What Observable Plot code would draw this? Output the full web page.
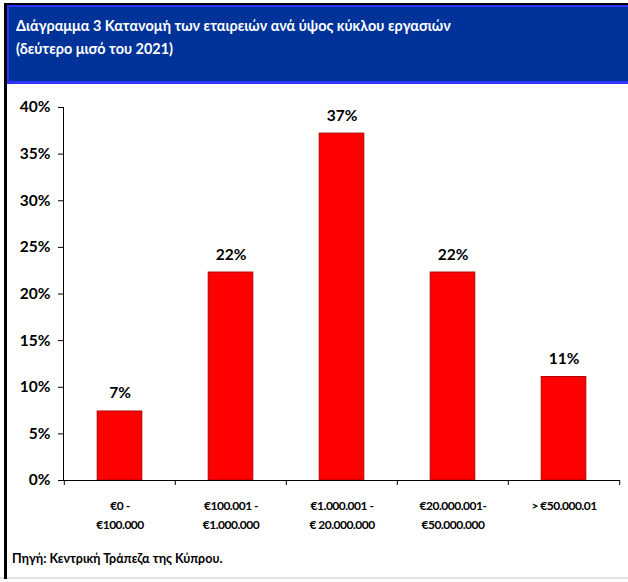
<!DOCTYPE html>
<html>
<head>
<meta charset="utf-8">
<script src="https://cdn.jsdelivr.net/npm/d3@7"></script>
<script src="https://cdn.jsdelivr.net/npm/@observablehq/plot@0.6"></script>
<style>
  html, body { margin: 0; padding: 0; background: #fff; }
  body { width: 628px; height: 582px; position: relative; overflow: hidden;
         font-family: Lato, "Noto Sans", sans-serif; }
  #topline { position: absolute; left: 4px; top: 3px; width: 624px; height: 2px; background: #000; }
  #leftline { position: absolute; left: 4px; top: 3px; width: 3px; height: 576px; background: #000; z-index: 3; }
  #bottomline { position: absolute; left: 0; top: 577px; width: 628px; height: 2px; background: #e2e2e2; }
  #header { position: absolute; left: 7px; top: 5px; width: 621px; height: 74px;
            background: #003399; border-top: 2px solid #3333ff; border-bottom: 3px solid #3333ff;
            border-left: 2px solid #3333ff; box-sizing: content-box; }
  #title { position: absolute; left: 7px; top: 7px; color: #fff; font-weight: bold; font-size: 15.5px; line-height: 23px;
           transform: scaleX(0.93); transform-origin: left top; white-space: nowrap; }
  #chart { position: absolute; left: 0; top: 84px; }
  #footer { position: absolute; left: 12px; top: 551px; font-weight: bold; font-size: 12.5px; color: #000; }
  #chart g[aria-label="x-axis tick label"] text { letter-spacing: -0.5px; }
</style>
</head>
<body>
<div id="topline"></div>
<div id="header"><div id="title">Διάγραμμα 3 Κατανομή των εταιρειών ανά ύψος κύκλου εργασιών<br>(δεύτερο μισό του 2021)</div></div>
<div id="leftline"></div>
<div id="chart"></div>
<div id="footer">Πηγή: Κεντρική Τράπεζα της Κύπρου.</div>
<div id="bottomline"></div>
<script>
const categories = ["c1", "c2", "c3", "c4", "c5"];
const tickLabels = ["€0 -\n€100.000", "€100.001 -\n€1.000.000", "€1.000.001 -\n€ 20.000.000", "€20.000.001-\n€50.000.000", "> €50.000.01"];
const values = [7.4, 22.3, 37.2, 22.3, 11.1];
const valueLabels = ["7%", "22%", "37%", "22%", "11%"];
const yTicks = [0, 5, 10, 15, 20, 25, 30, 35, 40];

const data = categories.map((c, i) => ({cat: c, label: tickLabels[i], value: values[i], text: valueLabels[i]}));

const W = 628, H = 450, mL = 63, mR = 8, mT = 23, mB = 54;
const step = (W - mL - mR) / categories.length;
const barW = 45;
const inset = (step - barW) / 2;

const plot = Plot.plot({
  width: W,
  height: H,
  marginLeft: mL,
  marginRight: mR,
  marginTop: mT,
  marginBottom: mB,
  style: {fontFamily: 'Lato, "Noto Sans", sans-serif', background: "transparent", color: "#000"},
  x: {domain: categories, padding: 0, label: null},
  y: {domain: [0, 40], label: null},
  marks: [
    Plot.barY(data, {x: "cat", y: "value", fill: "#ff0000", stroke: "#b00000", strokeWidth: 1, insetLeft: inset, insetRight: inset}),
    Plot.text(data, {x: "cat", y: "value", text: "text", dy: -18, fontSize: 15.5, fontWeight: "bold", fill: "#000"}),
    Plot.frame({anchor: "left", stroke: "#000"}),
    Plot.ruleY([0], {stroke: "#000"}),
    Plot.ruleX(categories, {x: d => d, y1: 0, y2: 0, insetBottom: -5, dx: -step / 2, stroke: "#000"}),
    Plot.ruleX([categories[categories.length - 1]], {x: d => d, y1: 0, y2: 0, insetBottom: -5, dx: step / 2, stroke: "#000"}),
    Plot.axisY({ticks: yTicks, tickSize: 5, tickPadding: 8, tickFormat: d => d + "%", fontSize: 15.5, fontWeight: "bold", stroke: "#000"}),
    Plot.axisX({tickSize: 0, tickPadding: 16, tickFormat: d => tickLabels[categories.indexOf(d)], fontSize: 12, fontWeight: "bold", lineHeight: 1.6})
  ]
});
document.getElementById("chart").appendChild(plot);
</script>
</body>
</html>
